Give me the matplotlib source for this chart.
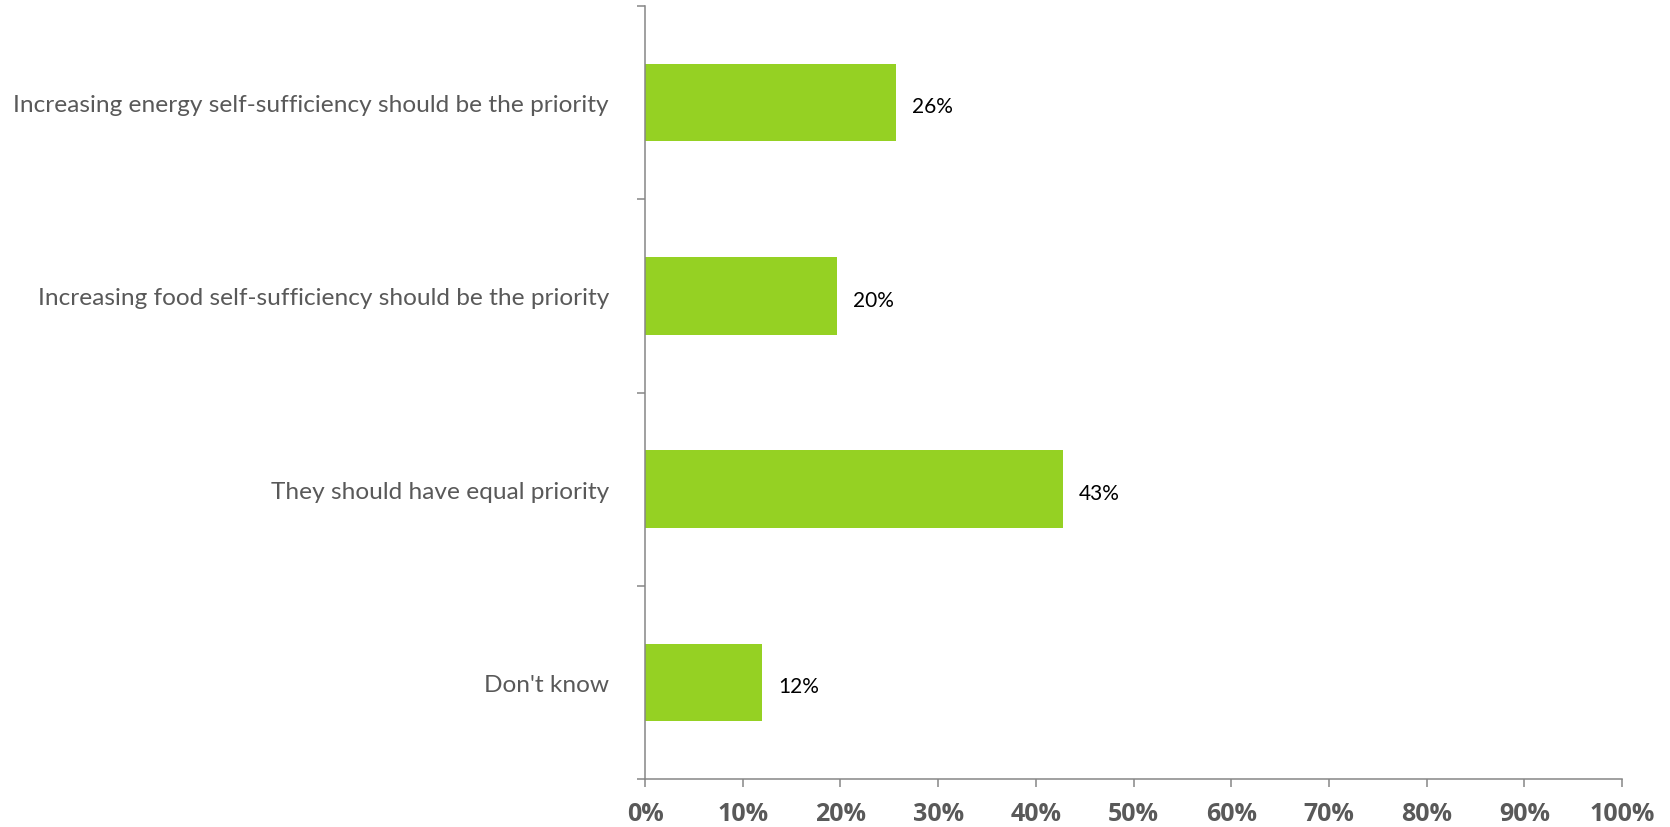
import matplotlib
matplotlib.use("Agg")
import matplotlib.pyplot as plt
from matplotlib.ticker import FixedLocator

categories = [
    "Increasing energy self-sufficiency should be the priority",
    "Increasing food self-sufficiency should be the priority",
    "They should have equal priority",
    "Don't know",
]
values = [25.7, 19.7, 42.8, 12.0]
xtick_values = [0, 10, 20, 30, 40, 50, 60, 70, 80, 90, 100]
xtick_labels = [f"{v}%" for v in xtick_values]

bar_color = "#95D123"
axis_color = "#868686"
text_gray = "#595959"

fig = plt.figure(figsize=(16.70, 8.28), dpi=100)
ax = fig.add_axes([645/1670, 1 - 780/828, (1622-645)/1670, (780-7)/828])

pos = list(range(len(categories)))
ax.barh(pos, values, height=0.4, color=bar_color)
for p, v in zip(pos, values):
    ax.text(v + 1.6, p + 0.02, f"{round(v)}%", va="center", ha="left",
            fontsize=15, family="Lato", color="black")

ax.set_xlim(0, 100)
ax.set_ylim(len(categories) - 0.5, -0.5)

ax.set_xticks(xtick_values)
ax.set_xticklabels(xtick_labels, fontsize=18, fontweight="bold",
                   family="Open Sans", color=text_gray)
ax.tick_params(axis="x", direction="out", length=6, width=1.1,
               color=axis_color, pad=10)

ax.yaxis.set_major_locator(FixedLocator([i - 0.5 for i in range(len(categories) + 1)]))
ax.yaxis.set_minor_locator(FixedLocator(pos))
ax.set_yticklabels([""] * (len(categories) + 1))
ax.set_yticklabels(categories, minor=True, fontsize=17.6, family="Lato",
                   color=text_gray)
ax.tick_params(axis="y", which="major", direction="out", length=6,
               width=1.1, color=axis_color)
ax.tick_params(axis="y", which="minor", length=0, pad=26)

for s in ["top", "right"]:
    ax.spines[s].set_visible(False)
for s in ["left", "bottom"]:
    ax.spines[s].set_color(axis_color)
    ax.spines[s].set_linewidth(1.1)

fig.savefig("out.png", dpi=100)
